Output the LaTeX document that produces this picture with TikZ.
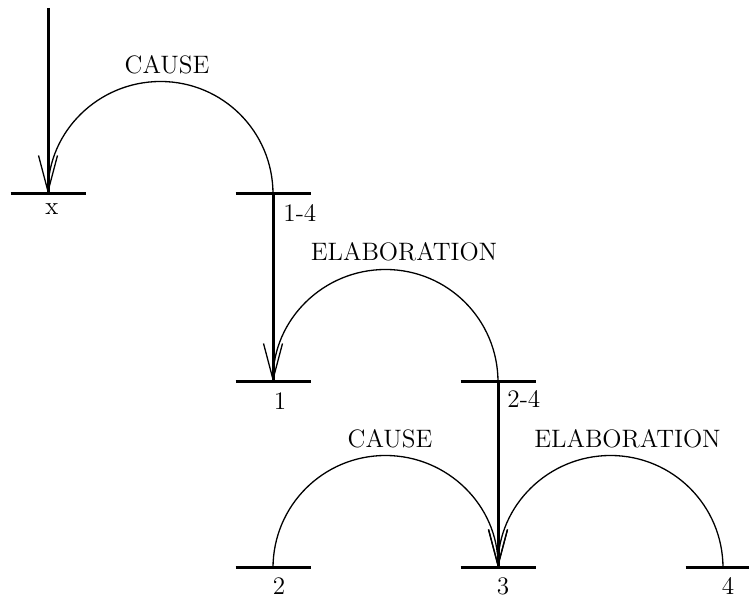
\documentclass[tikz,border=0pt]{standalone}
\usepackage{tikz}
\usetikzlibrary{arrows.meta}

\begin{document}
\begin{tikzpicture}[
    x=0.5pt,y=0.5pt,
    seg/.style     = {rectangle, minimum width=37.5pt, minimum height=0pt,
                      inner sep=0pt, outer sep=0pt},
    barre/.style   = {line width=1.5pt},
    tige/.style    = {line width=1.5pt},
    rel/.style     = {line width=0.65pt,
                      -{Straight Barb[length=18pt,width=9.5pt]}},
    nomrel/.style  = {font=\fontsize{12.6pt}{15pt}\selectfont, anchor=base,
                      inner sep=0pt},
    nomseg/.style  = {font=\fontsize{12.6pt}{15pt}\selectfont, anchor=base,
                      inner sep=0pt},
  ]
  \useasboundingbox (0,0) rectangle (749,597);

  % ── Segments ────────────────────────────────────────────────────────────
  \coordinate (haut) at (48,589);
  \node[seg] (sx)  at (48,403)  {};
  \node[seg] (s14) at (273,403) {};
  \node[seg] (s1)  at (273,215) {};
  \node[seg] (s24) at (498,215) {};
  \node[seg] (s2)  at (273,29)  {};
  \node[seg] (s3)  at (498,29)  {};
  \node[seg] (s4)  at (723,29)  {};

  \foreach \s in {sx,s14,s1,s24,s2,s3,s4}
    \draw[barre] (\s.west) -- (\s.east);

  % ── Tiges verticales ────────────────────────────────────────────────────
  \draw[tige] (haut) -- (sx.center);
  \draw[tige] (s14.center) -- (s1.center);
  \draw[tige] (s24.center) -- (s3.center);

  % ── Relations (demi-cercles) ────────────────────────────────────────────
  \coordinate (c1) at (160.5,515.5);
  \coordinate (c2) at (385.5,327.5);
  \coordinate (c3) at (385.5,141.5);
  \coordinate (c4) at (610.5,141.5);

  \draw[rel] (s14.center) to[out=90,in=0] (c1) to[out=180,in=90] (sx.center);
  \draw[rel] (s24.center) to[out=90,in=0] (c2) to[out=180,in=90] (s1.center);
  \draw[rel] (s2.center)  to[out=90,in=180] (c3) to[out=0,in=90] (s3.center);
  \draw[rel] (s4.center)  to[out=90,in=0] (c4) to[out=180,in=90] (s3.center);

  \node[nomrel] (r1) at (167,523)   {CAUSE};
  \node[nomrel] (r2) at (404,336)   {ELABORATION};
  \node[nomrel] (r3) at (390,149)   {CAUSE};
  \node[nomrel] (r4) at (627.5,149) {ELABORATION};

  % ── Libellés des segments ───────────────────────────────────────────────
  \node[nomseg] (lx) at (52,382) {x};
  \node[nomseg,anchor=base west] (l14) at (283,375) {1-4};
  \node[nomseg] (l1) at (280,187) {1};
  \node[nomseg,anchor=base west] (l24) at (507,189) {2-4};
  \node[nomseg] (l2) at (279,2) {2};
  \node[nomseg] (l3) at (503,2) {3};
  \node[nomseg] (l4) at (728,2) {4};

\end{tikzpicture}
\end{document}
